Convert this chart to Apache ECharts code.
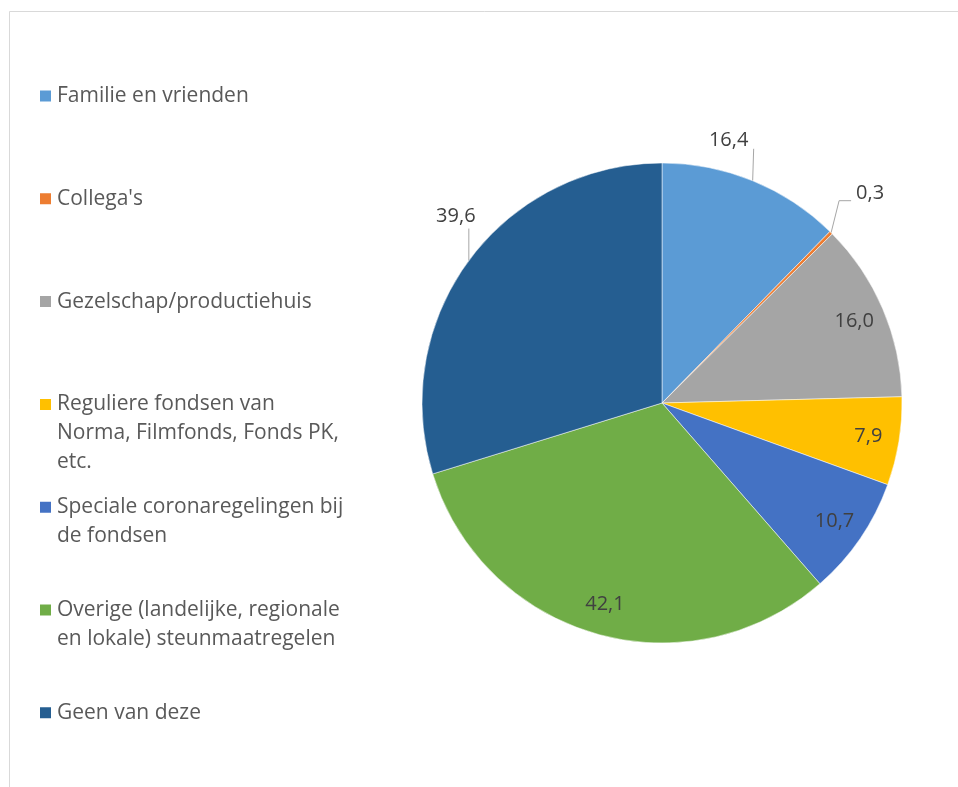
<!DOCTYPE html>
<html>
<head>
<meta charset="utf-8">
<script src="https://cdn.jsdelivr.net/npm/echarts@6/dist/echarts.min.js"></script>
<style>
  html, body { margin: 0; padding: 0; background: #fff; overflow: hidden; }
  #chart { width: 958px; height: 787px; }
</style>
</head>
<body>
<div id="chart"></div>
<script>
const categories = [
  'Familie en vrienden',
  "Collega's",
  'Gezelschap/productiehuis',
  'Reguliere fondsen van Norma, Filmfonds, Fonds PK, etc.',
  'Speciale coronaregelingen bij de fondsen',
  'Overige (landelijke, regionale en lokale) steunmaatregelen',
  'Geen van deze'
]
const legendLabels = [
  'Familie en vrienden',
  "Collega's",
  'Gezelschap/productiehuis',
  'Reguliere fondsen van\nNorma, Filmfonds, Fonds PK,\netc.',
  'Speciale coronaregelingen bij\nde fondsen',
  'Overige (landelijke, regionale\nen lokale) steunmaatregelen',
  'Geen van deze'
]
const values = [16.4, 0.3, 16.0, 7.9, 10.7, 42.1, 39.6]
const colors = ['#5B9BD5', '#ED7D31', '#A5A5A5', '#FFC000', '#4472C4', '#70AD47', '#255E91']

// which labels sit outside the pie with a leader line
const outsideLabels = [0, 1, 6]

// label placement relative to the slice edge point: label centre offset + leader line bends
const leaderStyle = {
  0: { dx: -24, dy: -40, line: [[1, -32]] },
  1: { dx: 39, dy: -39, line: [[8, -32], [20, -32]] },
  6: { dx: -13, dy: -44, line: [[0, -32]] }
}

const fmt = (v) => v.toFixed(1).replace('.', ',')

const chart = echarts.init(document.getElementById('chart'))

// legend text is centred on its marker, so blank lines are put in front of
// wrapped entries to keep the marker level with the first line (as Excel does)
const lineH = 29
const legends = categories.map((name, i) => {
  const lines = legendLabels[i].split('\n').length
  const text = '\n'.repeat(lines - 1) + legendLabels[i]
  const firstLineY = 96 + 102.8 * i
  return {
    left: 38,
    top: firstLineY - (2 * lines - 1) * lineH / 2,
    padding: 0,
    orient: 'vertical',
    selectedMode: false,
    icon: 'rect',
    itemWidth: 13,
    itemHeight: 13,
    data: [name],
    formatter: () => text,
    textStyle: {
      fontFamily: 'Open Sans',
      fontSize: 21,
      color: '#595959',
      lineHeight: lineH
    }
  }
})

const mainData = categories.map((name, i) => ({
  name,
  value: values[i],
  itemStyle: { color: colors[i] },
  label: { show: outsideLabels.includes(i) },
  labelLine: { show: outsideLabels.includes(i) }
}))

const innerData = categories.map((name, i) => ({
  name,
  value: values[i],
  label: { show: !outsideLabels.includes(i) }
}))

const labelText = {
  fontFamily: 'Open Sans',
  fontSize: 20,
  color: '#404040',
  formatter: (p) => fmt(p.value)
}

chart.setOption({
  backgroundColor: '#fff',
  animation: false,
  graphic: [{
    type: 'rect',
    shape: { x: 9.5, y: 11.5, width: 1200, height: 1200 },
    style: { fill: 'none', stroke: '#D9D9D9', lineWidth: 1 },
    silent: true
  }],
  legend: legends,
  series: [
    {
      type: 'pie',
      center: [662, 403],
      radius: 240,
      startAngle: 90,
      clockwise: true,
      avoidLabelOverlap: false,
      itemStyle: { borderColor: '#fff', borderWidth: 0.5 },
      label: { position: 'outside', ...labelText },
      labelLine: { length: 20, length2: 0, lineStyle: { color: '#A6A6A6', width: 1 } },
      labelLayout: (params) => {
        const s = leaderStyle[params.dataIndex]
        const pts = params.labelLinePoints
        if (!s || !pts) return {}
        const p0 = pts[0]
        const linePts = [p0].concat(s.line.map(([x, y]) => [p0[0] + x, p0[1] + y]))
        while (linePts.length < 3) linePts.push(linePts[linePts.length - 1])
        return {
          x: p0[0] + s.dx,
          y: p0[1] + s.dy,
          align: 'center',
          verticalAlign: 'middle',
          labelLinePoints: linePts
        }
      },
      data: mainData
    },
    {
      type: 'pie',
      silent: true,
      center: [662, 403],
      radius: [172, 240],
      startAngle: 90,
      clockwise: true,
      avoidLabelOverlap: false,
      itemStyle: { color: 'rgba(0,0,0,0)' },
      label: { position: 'inside', ...labelText },
      labelLine: { show: false },
      data: innerData
    }
  ]
})
</script>
</body>
</html>
